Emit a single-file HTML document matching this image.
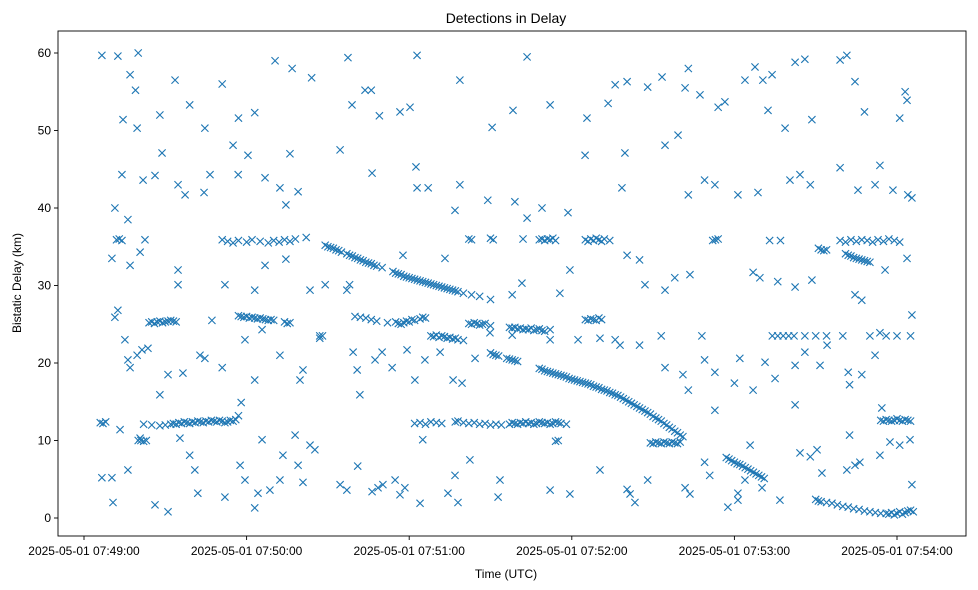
<!DOCTYPE html>
<html><head><meta charset="utf-8"><style>
body{margin:0;background:#fff;}
svg{display:block;font-family:"Liberation Sans","DejaVu Sans",sans-serif;}
</style></head><body>
<svg id="chart" width="978" height="590">
<rect x="0" y="0" width="978" height="590" fill="#fff"/>
<text x="506" y="23" text-anchor="middle" font-size="14" fill="#000">Detections in Delay</text>
<text x="506" y="578" text-anchor="middle" font-size="12" fill="#000">Time (UTC)</text>
<text x="21" y="283" text-anchor="middle" font-size="12" fill="#000" transform="rotate(-90 21 283)">Bistatic Delay (km)</text>
<g id="marks"></g>
<g id="axes"></g>
</svg>
<script>
const xTickSeconds=[0,60,120,180,240,300];
const xTickLabels=["2025-05-01 07:49:00","2025-05-01 07:50:00","2025-05-01 07:51:00","2025-05-01 07:52:00","2025-05-01 07:53:00","2025-05-01 07:54:00"];
const yTickValues=[0,10,20,30,40,50,60];
const scatterT=[6.6,12.5,20,17,19,14.4,19.6,28,33.6,39,44.6,51,57,63,70.5,76.8,84,97.4,98.9,103.7,106,109,116.6,120.3,122.9,138.7,150.6,158.3,163.5,172,185.6,193.4,196,200.4,208,213.3,221.8,223,227.3,234,236.5,243.9,247.6,250.5,253.9,252.4,258.7,262.4,266,268.6,279,281.5,284.5,288,303,303.7,301,
11.4,14,16.2,21.8,26.2,28.8,34.7,37.3,44.3,46.5,55,56.9,60.5,66.8,72.3,74.5,76,79,94.5,106.3,122.9,127,122.5,138.7,136.9,149,159,163.5,169,178.6,184.9,199.6,198.5,214.4,219.2,223,229,232.8,241.3,248.7,260.5,264.2,268,279,285.6,291.9,293.7,298.5,304,305.5,
10.3,17,20.7,22.5,34.7,34.7,52,63,66.8,74.5,83.4,89,97,98,117.7,133.2,158,161.6,175.6,179.3,207,200.4,205,214.4,218,223.6,246.9,249.4,256,262.4,268.6,284.5,287,295.6,303.7,
11.4,12.5,15.1,16.2,17,19.6,21.4,23.6,28,31,36.5,42.8,44.6,47.2,51,59.4,63,65.7,72.3,79.7,80.8,87,99.3,100.8,101.8,107.4,110,113.7,119.2,122.1,125.8,131.4,136.2,139.5,144.3,149.8,158,172,182.3,190.4,196,197.8,205,214.4,221,223,229,232.8,240,242,246.9,251.3,255,262.4,266,271.6,274.2,282,282.5,287,291.9,293.7,305.5,
6.6,10.3,10.7,13.3,16.2,20.7,26.2,31,35.4,39,40.9,42,52,57.6,59.4,63,64.2,65.7,68.6,72.3,73.4,77.9,79,80.8,83.4,85.2,94.5,97,101,106.3,108.5,110.3,114.8,116.6,118.4,124,125,134.3,136.9,138,142.4,153.5,152.8,172,179.3,190.4,200.4,201.5,203.3,208,221.8,223.6,229,230.9,232.8,237.6,241.3,241.3,243.9,245.8,250.2,256.8,262.4,264.2,268,270.5,272.3,281.5,282.5,284.5,286.3,293.7,294.4,297.4,301,304.8,305.5];
const scatterD=[59.7,59.6,60,57.2,55.2,51.4,50.3,52,56.5,53.3,50.3,56,51.6,52.3,59,58,56.8,59.4,53.3,55.2,55.2,51.9,52.4,53,59.7,56.5,50.4,52.6,59.5,53.3,51.6,53.5,55.9,56.3,55.6,56.9,55.5,58,54.6,53,53.7,56.5,58.2,56.5,57.2,52.6,50.3,58.8,59.2,51.4,59.1,59.7,56.3,52.4,55,53.9,51.6,
40,44.3,38.5,43.6,44.2,47.1,43,41.7,42,44.3,48.1,44.3,46.8,43.9,42.6,40.4,47,42.1,47.5,44.5,42.6,42.6,45.3,43,39.7,41,40.8,38.7,40,39.4,46.8,47.1,42.6,48.1,49.4,41.7,43.6,43,41.7,42,43.6,44.3,43,45.2,42.3,43,45.5,42.3,41.7,41.3,
33.5,32.6,34.3,35.9,32,30.1,30.1,29.4,32.6,33.4,29.4,30.1,29.4,30.1,33.9,33.5,28.8,30.3,29,32,30.1,33.9,33.3,29.4,31,31.4,31.7,31,30.5,29.8,30.7,28.8,28.1,32,33.5,
25.9,26.8,23,20.4,19.4,21,21.7,21.9,15.9,18.5,18.7,21,20.6,25.5,19.4,23,17.8,24.3,21,17.8,19.1,23.2,21.4,19.1,15.9,20.4,21.4,19.4,21.7,17.8,20.4,21.4,17.8,17.4,20.6,23.9,23.6,23,23,23.2,23,22.3,22.3,19.4,18.5,16.5,20.4,18.8,17.4,20.6,16.5,20.1,18,19.7,21.4,19.7,22.3,18.8,17.2,18.5,21,23.9,26.2,
5.2,5.2,2,11.4,6.2,10.3,1.7,0.8,10.3,8.1,6.2,3.2,2.7,6.8,4.9,1.3,3.2,10.1,3.6,4.9,8.1,10.7,6.8,4.6,9.4,8.8,4.3,3.6,6.7,3.4,3.9,4.3,4.9,3,3.9,1.9,10.1,3.2,5.5,2,7.5,4.9,2.7,3.6,3.1,6.2,3.7,3.1,2,4.9,3.9,3.1,7.2,5.5,13.9,1.4,3.2,2.3,4.9,9.4,3.9,2.3,14.6,8.4,7.9,8.8,5.8,6.2,10.7,6.8,7.2,8.1,14.2,9.8,9.4,10.1,4.3];
const trackT=[6,7,8,22,25,28,30,32,33,34,35,36,37,38,39,40,41,42,43,44,45,46,47,48,49,50,51,52,53,54,55,56,57,58,
122,124,126,128,130,132,137,138,140,142,144,146,148,150,152,154,157,158,159,160,161,162,163,164,165,166,167,168,169,170,171,172,173,174,175,176,178,
294,295,296,297,298,299,300,301,302,303,304,305,296,297,298,299,300,301,302,303,304,305,306,
24,25,26,27,28,29,30,31,32,33,34,57,58,59,60,61,62,63,64,65,66,67,68,69,70,74,75,76,100,102,104,106,108,112,115,116,117,118,119,120,121,122,124,125,126,142,143,144,145,146,147,148,150,157,158,159,160,161,162,163,164,165,166,167,168,169,170,172,185,186,187,188,189,190,191,
51,53,55,57,60,62,65,68,70,72,74,76,78,82,168,169,170,171,172,173,174,185,186,187,188,189,190,191,192,194,142,143,150,151,162,232,233,234,253,257,279,281,283,285,287,289,291,293,295,297,299,301,12,13,14,
128,129,130,131,132,133,134,135,136,137,138,140,254,256,258,260,262,266,270,274,280,290,296,300,305,87,88,213,228,
20,21,22,23,209,210,211,212,213,214,215,216,217,218,219,220,174,175,
281,282,283,284,285,286,287,288,289,290,271,272,273,274];
const trackD=[12.3,12.2,12.4,12.1,12.0,11.9,12.0,12.1,12.2,12.1,12.3,12.2,12.4,12.3,12.2,12.4,12.3,12.5,12.4,12.3,12.5,12.4,12.6,12.5,12.4,12.6,12.5,12.3,12.4,12.6,12.5,12.7,13.2,14.9,
12.2,12.3,12.1,12.4,12.3,12.2,12.4,12.5,12.3,12.2,12.3,12.1,12.2,12.0,12.1,12.0,12.1,12.3,12.2,12.1,12.3,12.2,12.4,12.2,12.3,12.1,12.2,12.4,12.3,12.2,12.3,12.1,12.2,12.4,12.3,12.2,12.1,
12.6,12.5,12.7,12.6,12.5,12.6,12.8,12.6,12.5,12.7,12.6,12.5,0.6,0.5,0.7,0.4,0.6,0.8,0.5,0.7,0.9,1.0,0.8,
25.2,25.3,25.1,25.3,25.4,25.2,25.3,25.4,25.5,25.4,25.3,26.1,26.0,25.9,26.0,25.8,25.9,25.8,25.7,25.8,25.7,25.6,25.5,25.6,25.5,25.3,25.1,25.2,26,25.9,25.8,25.6,25.4,25.2,25.3,25.1,25.0,25.2,25.4,25.3,25.6,25.5,25.7,25.9,25.8,25.1,25.0,25.2,25.1,24.9,25.0,25.1,24.8,24.6,24.5,24.6,24.4,24.5,24.3,24.4,24.3,24.5,24.2,24.3,24.4,24.2,24.1,24.3,25.6,25.5,25.7,25.6,25.5,25.8,25.6,
35.9,35.7,35.5,35.8,35.6,35.9,35.7,35.5,35.8,35.6,35.9,35.7,36.0,36.2,35.9,36.0,35.8,36.0,35.9,36.1,35.8,35.9,35.7,36.0,35.8,36.1,35.9,35.7,36.0,35.8,36,35.9,36.1,35.9,36,35.8,35.9,36,35.8,35.8,35.8,35.6,35.9,35.7,35.9,35.8,35.6,35.9,35.7,36.0,35.8,35.6,35.9,36.0,35.8,
23.5,23.4,23.6,23.3,23.5,23.4,23.2,23.3,23.1,23.2,23.0,22.9,23.5,23.5,23.5,23.5,23.5,23.5,23.5,23.5,23.5,23.5,23.5,23.5,23.5,23.5,23.5,23.5,23.5,
10,10,9.9,10,9.7,9.6,9.8,9.7,9.6,9.8,9.7,9.6,9.8,9.7,9.6,9.8,9.9,10,
34.1,33.9,33.8,33.6,33.5,33.4,33.3,33.2,33.1,33.0,34.8,34.6,34.5,34.6];
const diagT=[89,90,91,92,93,94,95,97,98,99,100,101,102,103,104,105,106,107,108,110,114,115,116,117,118,119,120,121,122,123,124,125,126,127,128,129,130,131,132,133,134,135,136,137,138,140,143,146,150,
150,151,152,153,156,157,158,159,160,
168,169,170,171,172,173,174,175,176,177,178,179,180,181,182,183,184,185,186,187,188,189,190,191,192,193,194,195,196,197,198,199,200,201,202,203,204,205,206,207,208,209,210,211,212,213,214,215,216,217,218,219,220,221,
237,238,239,240,241,242,243,244,245,246,247,248,249,250,251,
270,271,272,274,276,278,280,282,284,286,288,290,292,294];
const diagD=[35.2,35.0,34.9,34.8,34.6,34.5,34.3,34.1,33.9,33.8,33.6,33.5,33.3,33.2,33.0,32.9,32.8,32.6,32.5,32.3,31.8,31.6,31.5,31.4,31.2,31.1,31.0,30.9,30.8,30.7,30.6,30.5,30.4,30.3,30.2,30.1,30.0,29.9,29.8,29.7,29.6,29.5,29.4,29.3,29.2,29.0,28.8,28.6,28.2,
21.3,21.1,21.0,20.9,20.6,20.5,20.4,20.3,20.2,
19.3,19.2,19.0,18.9,18.8,18.7,18.6,18.5,18.4,18.3,18.2,18.0,17.9,17.8,17.7,17.6,17.5,17.4,17.3,17.2,17.0,16.9,16.8,16.6,16.5,16.4,16.2,16.1,15.9,15.8,15.6,15.4,15.2,15.0,14.8,14.6,14.4,14.2,14.0,13.8,13.6,13.4,13.1,12.9,12.7,12.5,12.2,12.0,11.7,11.5,11.2,11.0,10.7,10.5,
7.8,7.6,7.4,7.2,7.0,6.9,6.7,6.5,6.3,6.1,5.9,5.7,5.5,5.3,5.1,
2.4,2.2,2.1,2.0,1.9,1.7,1.5,1.4,1.2,1.1,0.9,0.8,0.7,0.6];

const NS="http://www.w3.org/2000/svg";
const L=58,R=966,T=31,B=536;
function xs(t){return 84+t*162.6/60;}
function ys(d){return 518-d*7.75;}
const marks=document.getElementById('marks');
const axes=document.getElementById('axes');
function mk(tag,attrs,parent){const e=document.createElementNS(NS,tag);for(const k in attrs)e.setAttribute(k,attrs[k]);parent.appendChild(e);return e;}
function drawSeries(ts,ds){
  for(let i=0;i<ts.length;i++){
    const x=xs(ts[i]),y=ys(ds[i]),h=3.6;
    const p=mk('path',{d:`M${x-h},${y-h}L${x+h},${y+h}M${x-h},${y+h}L${x+h},${y-h}`,stroke:'#1f77b4','stroke-width':'1.1',fill:'none'},marks);
    
    
  }
}
drawSeries(scatterT,scatterD);
drawSeries(trackT,trackD);
drawSeries(diagT,diagD);
const frame=mk('rect',{x:L,y:T,width:R-L,height:B-T,fill:'none',stroke:'#000','stroke-width':'0.9'},axes);


xTickSeconds.forEach((s,i)=>{
  const x=xs(s);
  const tk=mk('line',{x1:x,x2:x,y1:B,y2:B+4,stroke:'#000','stroke-width':'0.9'},axes);
  
  
  const lb=mk('text',{x:x,y:B+19,'text-anchor':'middle','font-size':'12',fill:'#000'},axes);
  lb.textContent=xTickLabels[i];
  
  
});
yTickValues.forEach(v=>{
  const y=ys(v);
  const tk=mk('line',{x1:L-4,x2:L,y1:y,y2:y,stroke:'#000','stroke-width':'0.9'},axes);
  
  
  const lb=mk('text',{x:L-7,y:y+4,'text-anchor':'end','font-size':'12',fill:'#000'},axes);
  lb.textContent=String(v);
  
  
});
</script>
</body></html>
